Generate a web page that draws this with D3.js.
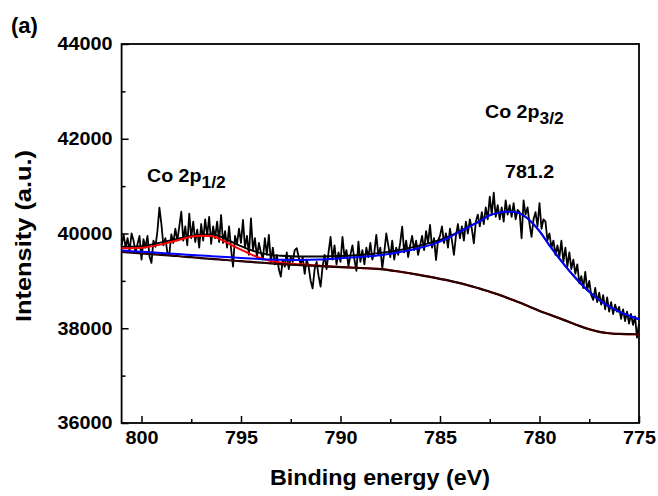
<!DOCTYPE html>
<html>
<head>
<meta charset="utf-8">
<script src="https://cdn.jsdelivr.net/npm/d3@7"></script>
<style>
  body { margin: 0; background: #fff; }
  svg text { font-family: "Liberation Sans", Arial, sans-serif; font-weight: bold; fill: #000; }
</style>
</head>
<body>
<div id="chart"></div>
<script>
// raw spectrum, 801.0 eV down to 775.0 eV, 0.1 eV step
const rawStart = 801;
const rawStep = 0.1;
const rawCounts = [
  39750, 39980, 39700, 39900, 39620, 40000, 39850, 39600, 39780, 39950,
  39450, 39880, 39700, 39950, 39520, 39380, 39850, 39720, 40050, 40545,
  40200, 39750, 39900, 39600, 39560, 39980, 39800, 40100, 39850, 40150,
  40460, 39850, 40150, 39750, 40420, 39900, 40250, 39820, 40080, 39700,
  40200, 39850, 40300, 39950, 40350, 39780, 40150, 39900, 40250, 39820,
  40390, 39800, 40050, 39700, 40150, 39680, 39300, 39950, 39780, 40100,
  39800, 40285, 39700, 39950, 39550, 40320, 39650, 39900, 39500, 39800,
  39600, 39450, 39900, 39550, 39970, 39400, 39700, 39350, 39550, 39250,
  39090, 39450, 39300, 39600, 39250, 39500, 39400, 39650, 39690, 39500,
  39350, 39500, 39150, 39450, 39300, 39000, 38840, 39250, 39400, 39100,
  38880, 39300, 39550, 39250, 39600, 39930, 39450, 39750, 39350, 39600,
  39400, 39930, 39500, 39650, 39300, 39550, 39750, 39450, 39210, 39830,
  39400, 39650, 39350, 39700, 39500, 39800, 39450, 39600, 39970, 39550,
  39700, 39270, 39600, 40000, 39750, 39500, 39850, 39450, 39700, 39550,
  39800, 40145, 39600, 39850, 39500, 39750, 39950, 39650, 39850, 39550,
  39750, 39950, 39650, 40050, 39800, 40180, 39700, 39900, 39440, 39850,
  39950, 40150, 39800, 40000, 39700, 40100, 39850, 39550, 39950, 40200,
  39900, 40150, 39850, 40250, 40000, 40300, 40100, 39790, 40250, 40400,
  40150, 40450, 40200, 40550, 40300, 40780, 40400, 40860, 40350, 40600,
  40300, 40550, 40250, 40700, 40400, 40600, 40350, 40640, 40300, 40500,
  40450, 39900, 40700, 40400, 40550, 40200, 39930, 40300, 40450, 40150,
  40640, 40100, 40300, 40250, 39850, 40000, 39700, 39850, 39550, 39750,
  39500, 39850, 39400, 39700, 39300, 39600, 39250, 39450, 39150, 39350,
  38950, 39100, 38850, 39190, 38800, 39000, 38700, 38600, 38850, 38550,
  38750, 38500, 38700, 38400, 38650, 38350, 38550, 38300, 38500, 38350,
  38450, 38200, 38400, 38150, 38350, 38100, 38300, 38070, 38250, 37800,
  38100
];

// fitted curves, sampled at these energies
const fitEnergy = [801, 800, 799, 798.5, 798, 797.5, 797, 796.5, 796, 795.5, 795, 794.5, 794, 793.5, 793,
  792, 791, 790, 789, 788, 787, 786, 785, 784.5, 784, 783.5, 783, 782.5, 782, 781.7, 781.3, 781,
  780.5, 780, 779.5, 779, 778.5, 778, 777.5, 777, 776.5, 776, 775.5, 775];
const background = [39610, 39580, 39550, 39535, 39515, 39500, 39480, 39465, 39450, 39430, 39415, 39400, 39385, 39370, 39355,
  39330, 39310, 39290, 39272, 39250, 39192, 39122, 39042, 39000, 38952, 38895, 38837, 38770, 38702, 38655, 38590, 38542,
  38455, 38366, 38290, 38212, 38130, 38050, 37980, 37925, 37895, 37880, 37875, 37873];
const peak12 = [39690, 39700, 39770, 39825, 39880, 39930, 39950, 39945, 39870, 39760, 39660, 39560, 39480, 39420, 39385,
  39350, 39320, 39295, 39272, 39250, 39192, 39122, 39042, 39000, 38952, 38895, 38837, 38770, 38702, 38655, 38590, 38542,
  38455, 38366, 38290, 38212, 38130, 38050, 37980, 37925, 37895, 37880, 37875, 37873];
const peak32 = [39640, 39615, 39590, 39575, 39560, 39548, 39535, 39522, 39510, 39498, 39485, 39472, 39460, 39450, 39445,
  39440, 39450, 39478, 39505, 39540, 39610, 39700, 39830, 39930, 40040, 40150, 40260, 40385, 40440, 40462, 40452, 40426,
  40280, 40050, 39750, 39470, 39210, 38975, 38770, 38596, 38460, 38350, 38265, 38190];
const envelope = [39720, 39735, 39815, 39860, 39905, 39950, 39975, 39980, 39930, 39830, 39735, 39650, 39585, 39545, 39530,
  39515, 39515, 39525, 39550, 39590, 39655, 39750, 39865, 39950, 40050, 40155, 40262, 40386, 40441, 40463, 40453, 40427,
  40281, 40051, 39751, 39471, 39211, 38976, 38771, 38597, 38461, 38351, 38266, 38191];

const xTicks = [800, 795, 790, 785, 780, 775];
const xMinor = [797.5, 792.5, 787.5, 782.5, 777.5];
const yTicks = [36000, 38000, 40000, 42000, 44000];
const yMinor = [37000, 39000, 41000, 43000];

const W = 658, H = 496;
const plotL = 121.6, plotR = 639, plotT = 44, plotB = 423;

const svg = d3.select('#chart').append('svg')
  .attr('width', W)
  .attr('height', H);
svg.append('rect').attr('width', W).attr('height', H).attr('fill', '#fff');

const x = d3.scaleLinear().domain([801, 775]).range([plotL, plotR]);
const y = d3.scaleLinear().domain([36000, 44000]).range([plotB, plotT]);

// the original font runs wider than Liberation Sans: stretch text horizontally
function widen(sel, k) {
  sel.each(function () {
    const len = this.getComputedTextLength();
    d3.select(this).attr('textLength', len * k).attr('lengthAdjust', 'spacingAndGlyphs');
  });
}

// axes with inward ticks
svg.append('g')
  .attr('transform', 'translate(' + plotL + ',0)')
  .call(d3.axisLeft(y).tickValues(yTicks).tickSizeInner(-7).tickSizeOuter(0).tickPadding(9).tickFormat(d3.format('d')));
svg.append('g')
  .attr('transform', 'translate(' + plotL + ',0)')
  .call(d3.axisLeft(y).tickValues(yMinor).tickSizeInner(-4).tickSizeOuter(0).tickFormat(''));
svg.append('g')
  .attr('transform', 'translate(0,' + plotB + ')')
  .call(d3.axisBottom(x).tickValues(xTicks).tickSizeInner(-7).tickSizeOuter(0).tickPadding(8).tickFormat(d3.format('d')));
svg.append('g')
  .attr('transform', 'translate(0,' + plotB + ')')
  .call(d3.axisBottom(x).tickValues(xMinor).tickSizeInner(-4).tickSizeOuter(0).tickFormat(''));
svg.selectAll('.domain').remove();
svg.selectAll('.tick line').attr('stroke', '#000').attr('stroke-width', 1.5);
svg.selectAll('.tick text').style('font-size', '18px').call(widen, 1.1);

// plot frame
svg.append('rect')
  .attr('x', plotL).attr('y', plotT)
  .attr('width', plotR - plotL).attr('height', plotB - plotT)
  .attr('fill', 'none').attr('stroke', '#000').attr('stroke-width', 1.8);

// raw data
const rawLine = d3.line()
  .x((d, i) => x(rawStart - i * rawStep))
  .y(d => y(d));
svg.append('path')
  .datum(rawCounts)
  .attr('d', rawLine)
  .attr('fill', 'none').attr('stroke', '#000').attr('stroke-width', 1.8)
  .attr('stroke-linejoin', 'round');

// fitted curves
const fitLine = d3.line()
  .x((d, i) => x(fitEnergy[i]))
  .y(d => y(d))
  .curve(d3.curveMonotoneX);
function drawFit(values, color, w, op) {
  svg.append('path')
    .datum(values)
    .attr('d', fitLine)
    .attr('fill', 'none').attr('stroke', color).attr('stroke-width', w)
    .attr('stroke-opacity', op || 1);
}
drawFit(envelope, '#000', 1.8);
drawFit(peak12, '#ff0000', 2);
drawFit(background, '#000', 2.2);
drawFit(background, '#b00000', 0.8, 0.55);
drawFit(peak32, '#0000ff', 2);

// labels
svg.append('text').attr('x', 11).attr('y', 33).style('font-size', '22px').text('(a)');

function peakLabel(px, py, main, sub) {
  const t = svg.append('text').attr('x', px).attr('y', py).style('font-size', '18px');
  t.append('tspan').text(main);
  t.append('tspan').attr('dy', 6).style('font-size', '16px').text(sub);
  t.selectAll('tspan').call(widen, 1.09);
}
peakLabel(147, 182, 'Co 2p', '1/2');
peakLabel(485, 118, 'Co 2p', '3/2');

svg.append('text').attr('x', 505).attr('y', 178).style('font-size', '18px').text('781.2')
  .call(widen, 1.09);

// axis titles
svg.append('text')
  .attr('transform', 'translate(31,' + 236 + ') rotate(-90)')
  .attr('text-anchor', 'middle')
  .style('font-size', '22px')
  .text('Intensity (a.u.)')
  .attr('textLength', 172).attr('lengthAdjust', 'spacingAndGlyphs');
svg.append('text')
  .attr('x', 380)
  .attr('y', 485)
  .attr('text-anchor', 'middle')
  .style('font-size', '22px')
  .text('Binding energy (eV)')
  .attr('textLength', 220).attr('lengthAdjust', 'spacingAndGlyphs');
</script>
</body>
</html>
